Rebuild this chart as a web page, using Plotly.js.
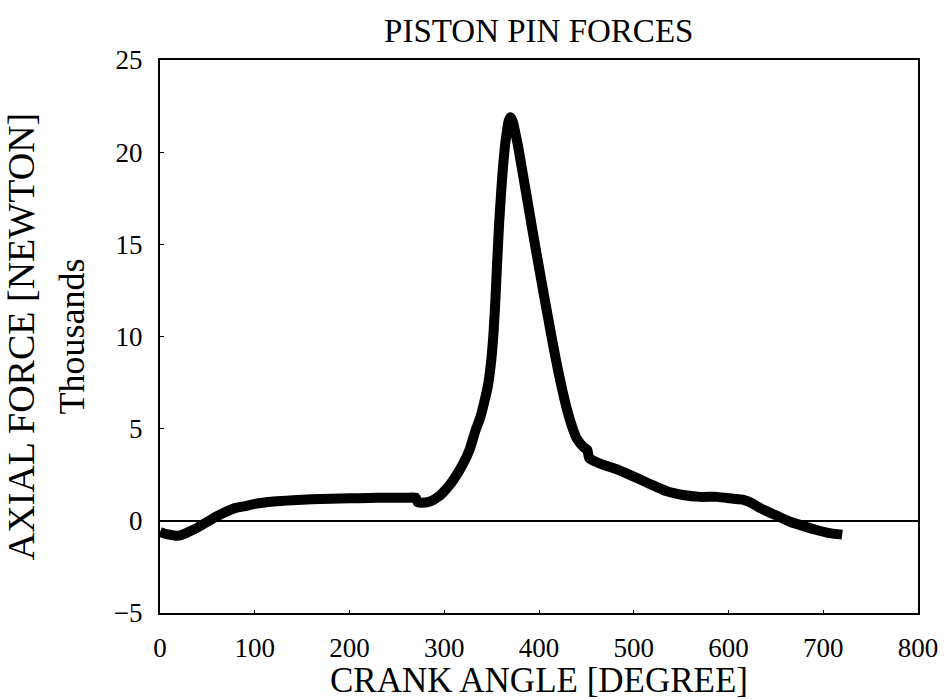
<!DOCTYPE html>
<html>
<head>
<meta charset="utf-8">
<script src="https://cdn.plot.ly/plotly-3.0.1.min.js"></script>
<style>html,body{margin:0;padding:0;background:#fff;}#chart{width:951px;height:700px;}</style>
</head>
<body>
<div id="chart"></div>
<script>
// Crank angle [degree]
const crankAngle = [0, 5, 10, 15, 20, 25, 30, 40, 50, 60, 70, 80, 90, 100, 120, 140, 160, 180, 200, 220, 240, 260, 270,
  272, 275, 285, 295, 305, 310, 320, 327, 333, 338, 342, 346, 348, 350, 352, 354, 356, 358, 360, 362, 364, 366, 368, 370,
  372, 374, 376, 378, 380, 385, 390, 395, 400, 405, 410, 415, 420, 425, 430, 436, 440, 447, 451, 453, 460, 470, 482, 500,
  517, 535, 552, 570, 588, 605, 615, 625, 633, 650, 665, 680, 693, 705, 720];
// Axial force [thousands of newton]
const axialForce = [-0.6, -0.7, -0.75, -0.8, -0.8, -0.72, -0.6, -0.35, -0.05, 0.25, 0.5, 0.7, 0.8, 0.92, 1.05, 1.12, 1.17, 1.2, 1.22, 1.24, 1.25, 1.25, 1.25,
  1.0, 0.98, 1.05, 1.35, 1.9, 2.25, 3.1, 3.9, 4.9, 5.6, 6.4, 7.3, 8.0, 8.9, 10.2, 12.0, 14.2, 16.2, 17.8, 19.2, 20.3, 21.1, 21.7, 21.9,
  21.7, 21.3, 20.8, 20.3, 19.7, 18.2, 16.7, 15.2, 13.75, 12.3, 10.9, 9.5, 8.2, 7.0, 5.95, 4.95, 4.45, 4.0, 3.85, 3.4, 3.2, 3.0, 2.8, 2.4,
  2.0, 1.6, 1.4, 1.3, 1.3, 1.2, 1.15, 0.95, 0.7, 0.3, -0.05, -0.3, -0.5, -0.65, -0.75];

const xTicks = [0, 100, 200, 300, 400, 500, 600, 700, 800];
const yTicks = [-5, 0, 5, 10, 15, 20, 25];

const serif = 'Liberation Serif, Times New Roman, serif';

const trace = {
  x: crankAngle,
  y: axialForce,
  type: 'scatter',
  mode: 'lines',
  line: {color: '#000', width: 10, shape: 'spline', smoothing: 0.5},
  hoverinfo: 'x+y',
  showlegend: false
};

const layout = {
  width: 951,
  height: 700,
  margin: {l: 160, r: 33, t: 60, b: 87},
  paper_bgcolor: '#fff',
  plot_bgcolor: '#fff',
  font: {family: serif, color: '#000', size: 26},
  title: {
    text: 'PISTON PIN FORCES',
    font: {family: serif, size: 33, color: '#000'},
    x: 0.5665, xanchor: 'center',
    y: 0.957, yanchor: 'middle'
  },
  xaxis: {
    range: [0, 800],
    tickvals: xTicks,
    ticktext: xTicks.map(String),
    showgrid: false,
    zeroline: false,
    showline: true,
    linecolor: '#000',
    linewidth: 2,
    mirror: true,
    ticks: 'inside',
    ticklen: 3,
    tickwidth: 1,
    tickcolor: '#000',
    ticklabelstandoff: 10,
    tickfont: {family: serif, size: 27, color: '#000'},
    title: {text: 'CRANK ANGLE [DEGREE]', font: {family: serif, size: 35, color: '#000'}, standoff: 0}
  },
  yaxis: {
    range: [-5, 25],
    tickvals: yTicks,
    ticktext: yTicks.map(v => v < 0 ? '\u2212' + Math.abs(v) : String(v)),
    showgrid: false,
    zeroline: true,
    zerolinecolor: '#000',
    zerolinewidth: 1.5,
    showline: true,
    linecolor: '#000',
    linewidth: 2,
    mirror: true,
    ticks: 'inside',
    ticklen: 4,
    tickwidth: 1,
    tickcolor: '#000',
    ticklabelstandoff: 10,
    tickfont: {family: serif, size: 27, color: '#000'},
    title: {
      text: 'AXIAL FORCE [NEWTON]<br><span style="font-size:36px">Thousands</span>',
      font: {family: serif, size: 38, color: '#000'},
      standoff: 18
    }
  }
};

Plotly.newPlot('chart', [trace], layout, {displayModeBar: false, staticPlot: true});
</script>
</body>
</html>
